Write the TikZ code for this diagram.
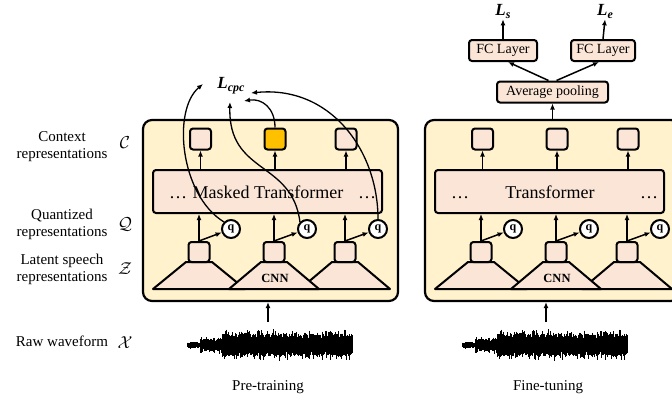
\documentclass[tikz,border=0pt]{standalone}
\usepackage{fontspec}
\setmainfont{Liberation Serif}
\usetikzlibrary{arrows.meta}
\definecolor{panelc}{HTML}{FFF2CC}
\definecolor{boxc}{HTML}{FBE5D6}
\definecolor{orc}{HTML}{FFC000}
\tikzset{
 panel/.style={draw, line width=2.2pt, fill=panelc, rounded corners=9pt, minimum width=255pt, minimum height=181pt, inner sep=0pt},
 sq/.style={draw, line width=2pt, fill=boxc, rounded corners=3pt, minimum width=21pt, minimum height=21pt, inner sep=0pt},
 tfbox/.style={draw, line width=2pt, fill=boxc, rounded corners=3pt, minimum width=229pt, minimum height=43pt, inner sep=0pt},
 qc/.style={circle, draw, line width=2pt, fill=white, minimum size=18pt, inner sep=0pt, font=\fontsize{12}{12}\selectfont\bfseries},
 trap/.style={draw, line width=2pt, fill=boxc, line join=round},
 arr/.style={-{Latex[length=6pt,width=5pt]}, line width=1.5pt},
 carr/.style={-{Latex[length=6pt,width=5pt]}, line width=1.3pt},
 lbl/.style={align=center, font=\fontsize{15}{17}\selectfont, inner sep=0pt},
 mlbl/.style={font=\fontsize{16}{16}\selectfont, inner sep=0pt},
 tftext/.style={font=\fontsize{18}{18}\selectfont, inner sep=0pt},
 dots/.style={font=\fontsize{18}{18}\selectfont, inner sep=0pt},
 cnn/.style={font=\fontsize{12.5}{12.5}\selectfont\bfseries, inner sep=0pt},
 smallbox/.style={draw, line width=2pt, fill=boxc, rounded corners=3pt, minimum height=21pt, inner sep=0pt, font=\fontsize{14}{14}\selectfont},
 lossl/.style={inner sep=1pt, font=\fontsize{17}{17}\selectfont\bfseries\itshape},
}
\newcommand\mywave[1]{%
 \pgfmathsetseed{4242}%
 \foreach \i in {0,...,330}{%
  \pgfmathsetmacro\rel{\i*0.5}%
  \pgfmathsetmacro\xx{#1+\rel}%
  \pgfmathsetmacro\env{\rel<13 ? 2.8 : (\rel<35 ? 6 : 11)}%
  \pgfmathsetmacro\ra{rnd}%
  \pgfmathsetmacro\rb{rnd}%
  \pgfmathsetmacro\up{\env*(0.6+0.4*rnd+0.5*\ra*\ra*\ra*\ra)}%
  \pgfmathsetmacro\dn{\env*(0.6+0.4*rnd+0.5*\rb*\rb*\rb*\rb)}%
  \draw[line width=0.9pt] (\xx,345-\up) -- (\xx,345+\dn);
 }}
\newcommand\encoder[3]{%
 \begin{scope}[xshift=#2]
  \node[panel] (#1panel) at (270.5,210.5) {};
  \node[tfbox] (#1tf) at (267.5,191.5) {};
  \node[tftext] at (268,192) {#3};
  \node[dots] at (178,198) {\ldots};
  \node[dots] at (367,198) {\ldots};
  \node[sq] (#1tl1) at (200.5,139) {};
  \node[sq, fill=#1topfill] (#1tl2) at (275,139) {};
  \node[sq] (#1tl3) at (346,139) {};
  \draw[trap] (153,289) -- (186,262) -- (212,262) -- (245,289) -- cycle;
  \draw[trap] (300,289) -- (332,262) -- (358,262) -- (390,289) -- cycle;
  \draw[trap] (229,289) -- (261,262) -- (287,262) -- (319,289) -- cycle;
  \node[cnn] at (275,278) {CNN};
  \node[sq, minimum height=20pt] (#1bl1) at (199,252) {};
  \node[sq, minimum height=20pt] (#1bl2) at (274,252) {};
  \node[sq, minimum height=20pt] (#1bl3) at (345,252) {};
  \node[qc] (#1q1) at (231,229) {q};
  \node[qc] (#1q2) at (307,229) {q};
  \node[qc] (#1q3) at (378,229) {q};
  \foreach \k in {1,2,3}{
   \draw[arr] (#1bl\k.north) -- (#1bl\k.north |- #1tf.south);
   \draw[arr] (#1bl\k.north) -- (#1q\k);
   \draw[arr] (#1tl\k.south |- #1tf.north) -- (#1tl\k.south);
  }
 \end{scope}}
\colorlet{Ltopfill}{orc}
\colorlet{Rtopfill}{boxc}
\begin{document}
\begin{tikzpicture}[x=1pt,y=-1pt]
\useasboundingbox (0,0) rectangle (672,400);
\clip (0,0) rectangle (672,400);
\fill[white] (0,0) rectangle (672,400);

% left labels
\node[lbl] (lc) at (62,147) {Context\\representations};
\node[lbl] (lq) at (62,224) {Quantized\\representations};
\node[lbl] (lz) at (62,269) {Latent speech\\representations};
\node[lbl] (lx) at (62,341) {Raw waveform};
\node[mlbl] (mc) at (125,143) {$\mathcal{C}$};
\node[mlbl] (mq) at (125,224) {$\mathcal{Q}$};
\node[mlbl] (mz) at (125,269) {$\mathcal{Z}$};
\node[mlbl] (mx) at (125,343) {$\mathcal{X}$};

\encoder{L}{0}{Masked Transformer}
\encoder{R}{282}{Transformer}

% loss
\node[lossl] (lcpc) at (231,86) {L\raisebox{-3pt}{\fontsize{12}{12}\selectfont cpc}};
\draw[carr] (Lq1.north west) .. controls (180,195) and (172,110) .. (203,84);
\draw[carr] (Lq2.north west) .. controls (292,160) and (228,175) .. (230,102);
\draw[carr] (Ltl2.north) .. controls (275,108) and (262,98) .. (244,101);
\draw[carr] (Lq3.north) .. controls (378,150) and (330,85) .. (251,93);

% fine-tuning head
\node[smallbox, minimum width=111pt] (avg) at (552.5,92) {Average pooling};
\node[smallbox, minimum width=68pt] (fc1) at (503,50.5) {FC Layer};
\node[smallbox, minimum width=64pt] (fc2) at (603,50.5) {FC Layer};
\node[lossl] (ls) at (503,11) {L\raisebox{-3pt}{\fontsize{12}{12}\selectfont s}};
\node[lossl] (le) at (605,11) {L\raisebox{-3pt}{\fontsize{12}{12}\selectfont e}};
\draw[arr] (avg.south |- Rpanel.north) -- (avg.south);
\draw[arr] ([xshift=-4pt]avg.north) -- ([xshift=5pt]fc1.south);
\draw[arr] ([xshift=4pt]avg.north) -- ([xshift=-4pt]fc2.south);
\draw[arr] (fc1.north) -- (ls.south);
\draw[arr] (fc2.north) -- (le.south);

% waveforms
\mywave{187}
\mywave{462}
\coordinate (w1) at (268,322);
\coordinate (w2) at (546,322);
\draw[arr] (w1) -- (w1 |- Lpanel.south);
\draw[arr] (w2) -- (w2 |- Rpanel.south);

\node[lbl] (pt) at (268,387) {Pre-training};
\node[lbl] (ft) at (548,387) {Fine-tuning};
\end{tikzpicture}
\end{document}
